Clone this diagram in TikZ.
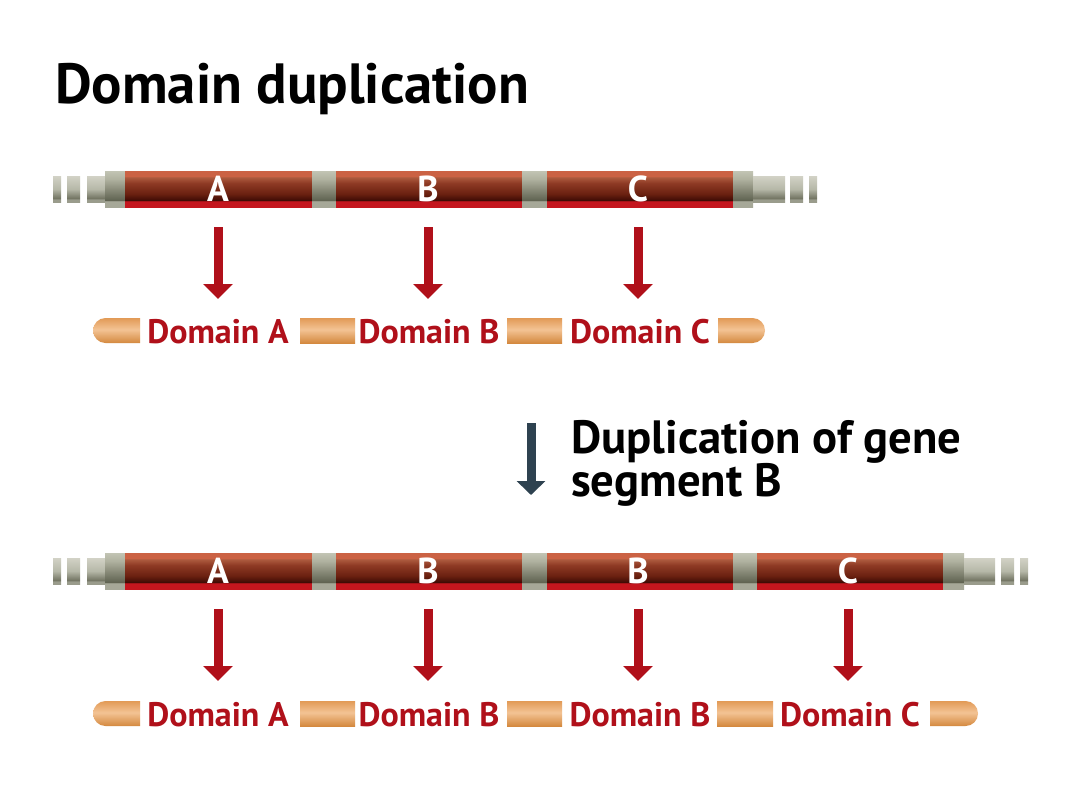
\documentclass[tikz,border=0pt]{standalone}
\usepackage{fontspec}
\setmainfont{PT Sans}
\usetikzlibrary{arrows.meta}
\definecolor{rbA}{HTML}{C4161E}
\definecolor{rbB}{HTML}{3C0A04}
\definecolor{rbC}{HTML}{6A2010}
\definecolor{rbD}{HTML}{8E3A24}
\definecolor{rbE}{HTML}{AC5A3E}
\definecolor{rbF}{HTML}{CB6244}
\definecolor{gbA}{HTML}{A6A898}
\definecolor{gbB}{HTML}{5E6250}
\definecolor{gbC}{HTML}{8A8C7A}
\definecolor{gbD}{HTML}{B0B2A0}
\definecolor{gbE}{HTML}{C2C4B4}
\definecolor{geA}{HTML}{9A9C8C}
\definecolor{geB}{HTML}{727462}
\definecolor{geC}{HTML}{B6B8A8}
\definecolor{geD}{HTML}{D2D2C6}
\definecolor{obA}{HTML}{D4893F}
\definecolor{obB}{HTML}{F3C394}
\definecolor{obC}{HTML}{E29A56}
\definecolor{domred}{HTML}{B0101A}
\definecolor{arrred}{HTML}{B0101A}
\definecolor{slate}{HTML}{2E4250}
\pgfdeclareverticalshading{redbar}{100bp}{color(0bp)=(rbA); color(33.2bp)=(rbA); color(33.8bp)=(rbB); color(43bp)=(rbC); color(58bp)=(rbD); color(66bp)=(rbE); color(68bp)=(rbF); color(100bp)=(rbF)}
\pgfdeclareverticalshading{greybar}{100bp}{color(0bp)=(gbA); color(33.2bp)=(gbA); color(33.8bp)=(gbB); color(50bp)=(gbC); color(64bp)=(gbD); color(75bp)=(gbE); color(100bp)=(gbE)}
\pgfdeclareverticalshading{greyend}{100bp}{color(0bp)=(geA); color(30bp)=(geA); color(32bp)=(geB); color(50bp)=(geC); color(75bp)=(geD); color(100bp)=(geD)}
\pgfdeclareverticalshading{orangebar}{100bp}{color(0bp)=(obA); color(25bp)=(obA); color(52bp)=(obB); color(75bp)=(obC); color(100bp)=(obC)}
\begin{document}
\begin{tikzpicture}[x=0.75pt,y=-0.75pt,
  genelabel/.style={anchor=base,text=white,font=\bfseries\fontsize{27}{27}\selectfont,inner sep=0pt},
  domlabel/.style={anchor=base,text=domred,font=\bfseries\fontsize{25.5}{25.5}\selectfont,inner sep=0pt},
  headline/.style={anchor=base west,inner sep=0pt,font=\bfseries\fontsize{42.5}{42.5}\selectfont},
  steplabel/.style={anchor=base west,inner sep=0pt,font=\bfseries\fontsize{35}{35}\selectfont},
  redarrow/.style={draw=arrred,line width=6.75pt,-{Triangle[width=21.75pt,length=11.25pt]}},
  slatearrow/.style={draw=slate,line width=6.75pt,-{Triangle[width=21pt,length=10.5pt]}},
  redseg/.style={shading=redbar},
  greygap/.style={shading=greybar},
  endpiece/.style={shading=greyend},
  dombar/.style={shading=orangebar}]
\useasboundingbox (0,0) rectangle (1080,810);
\fill[white] (0,0) rectangle (1080,810);

\node[headline] (title) at (55,103) {Domain duplication};

% ---------- top gene ----------
\shade[endpiece] (53,176) rectangle (61,202);
\shade[endpiece] (67,176) rectangle (80,202);
\shade[endpiece] (87,176) rectangle (105,202);
\shade[greygap] (105,171) rectangle (125,207);
\shade[redseg] (125,171) rectangle (312,207);
\shade[greygap] (312,171) rectangle (336,207);
\shade[redseg] (336,171) rectangle (522,207);
\shade[greygap] (522,171) rectangle (547,207);
\shade[redseg] (547,171) rectangle (733,207);
\shade[greygap] (733,171) rectangle (753,207);
\shade[endpiece] (753,176) rectangle (785,202);
\shade[endpiece] (790,176) rectangle (803,202);
\shade[endpiece] (809,176) rectangle (817,202);
\node[genelabel] (gA) at (218,201) {A};
\node[genelabel] (gB) at (428,201) {B};
\node[genelabel] (gC) at (638,201) {C};

\coordinate (tA0) at (218,227); \coordinate (tA1) at (218,299);
\coordinate (tB0) at (428,227); \coordinate (tB1) at (428,299);
\coordinate (tC0) at (638,227); \coordinate (tC1) at (638,299);
\draw[redarrow] (tA0) -- (tA1);
\draw[redarrow] (tB0) -- (tB1);
\draw[redarrow] (tC0) -- (tC1);

% ---------- top protein ----------
\shade[dombar] (140,318) -- (105.5,318) arc[start angle=270,end angle=90,radius=12.5] -- (140,343) -- cycle;
\shade[dombar] (300,318) rectangle (355,343);
\shade[dombar] (507,318) rectangle (562,343);
\shade[dombar] (718,318) -- (752.5,318) arc[start angle=-90,end angle=90,radius=12.5] -- (718,343) -- cycle;
\node[domlabel] (dA) at (218,343) {Domain A};
\node[domlabel] (dB) at (429,343) {Domain B};
\node[domlabel] (dC) at (640,343) {Domain C};

% ---------- duplication step ----------
\coordinate (m0) at (531,423); \coordinate (m1) at (531,495);
\draw[slatearrow] (m0) -- (m1);
\node[steplabel] (s1) at (571,453) {Duplication of gene};
\node[steplabel] (s2) at (571,496) {segment B};

% ---------- bottom gene ----------
\shade[endpiece] (53,558) rectangle (61,584);
\shade[endpiece] (67,558) rectangle (80,584);
\shade[endpiece] (87,558) rectangle (105,584);
\shade[greygap] (105,553) rectangle (125,589);
\shade[redseg] (125,553) rectangle (312,589);
\shade[greygap] (312,553) rectangle (336,589);
\shade[redseg] (336,553) rectangle (522,589);
\shade[greygap] (522,553) rectangle (547,589);
\shade[redseg] (547,553) rectangle (733,589);
\shade[greygap] (733,553) rectangle (757,589);
\shade[redseg] (757,553) rectangle (943,589);
\shade[greygap] (943,553) rectangle (964,589);
\shade[endpiece] (964,558) rectangle (995,584);
\shade[endpiece] (1001,558) rectangle (1014,584);
\shade[endpiece] (1020,558) rectangle (1028,584);
\node[genelabel] (hA) at (218,583) {A};
\node[genelabel] (hB) at (428,583) {B};
\node[genelabel] (hB2) at (638,583) {B};
\node[genelabel] (hC) at (848,583) {C};

\coordinate (bA0) at (218,609); \coordinate (bA1) at (218,681);
\coordinate (bB0) at (428,609); \coordinate (bB1) at (428,681);
\coordinate (bD0) at (638,609); \coordinate (bD1) at (638,681);
\coordinate (bC0) at (848,609); \coordinate (bC1) at (848,681);
\draw[redarrow] (bA0) -- (bA1);
\draw[redarrow] (bB0) -- (bB1);
\draw[redarrow] (bD0) -- (bD1);
\draw[redarrow] (bC0) -- (bC1);

% ---------- bottom protein ----------
\shade[dombar] (140,701) -- (105.5,701) arc[start angle=270,end angle=90,radius=12.5] -- (140,726) -- cycle;
\shade[dombar] (300,701) rectangle (355,726);
\shade[dombar] (507,701) rectangle (562,726);
\shade[dombar] (717,701) rectangle (773,726);
\shade[dombar] (930,701) -- (965.5,701) arc[start angle=-90,end angle=90,radius=12.5] -- (930,726) -- cycle;
\node[domlabel] (eA) at (218,726) {Domain A};
\node[domlabel] (eB) at (429,726) {Domain B};
\node[domlabel] (eB2) at (640,726) {Domain B};
\node[domlabel] (eC) at (850,726) {Domain C};
\end{tikzpicture}
\end{document}
